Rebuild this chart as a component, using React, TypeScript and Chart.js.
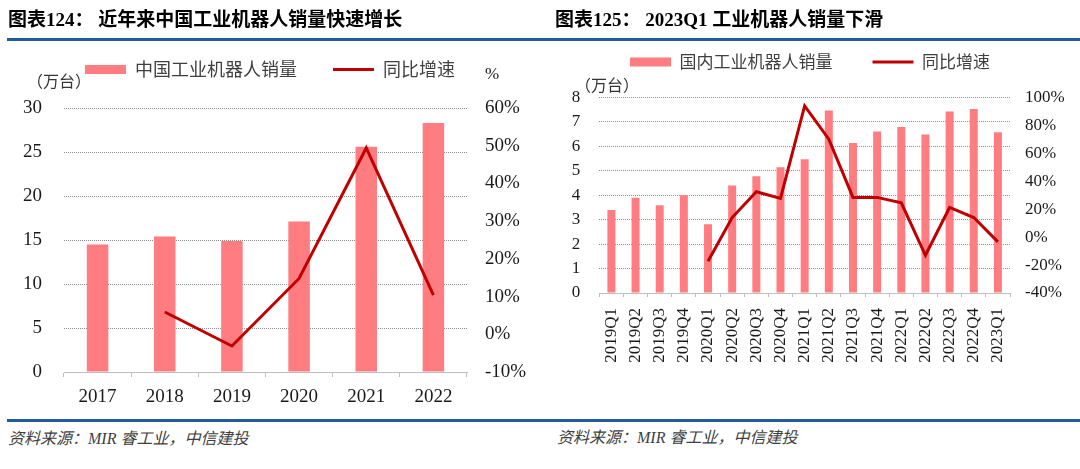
import React, { useEffect, useRef } from 'react';
import { Chart, registerables } from 'chart.js';

Chart.register(...registerables);

// ---------- data ----------
const yearLabels = ['2017', '2018', '2019', '2020', '2021', '2022'];
const yearSales = [14.5, 15.4, 14.9, 17.1, 25.6, 28.3];
const yearGrowth = [null, 5.9, -3.1, 14.8, 49.4, 10.4];

const quarterLabels = [
  '2019Q1', '2019Q2', '2019Q3', '2019Q4',
  '2020Q1', '2020Q2', '2020Q3', '2020Q4',
  '2021Q1', '2021Q2', '2021Q3', '2021Q4',
  '2022Q1', '2022Q2', '2022Q3', '2022Q4',
  '2023Q1',
];
const quarterSales = [3.39, 3.89, 3.59, 4.0, 2.81, 4.39, 4.77, 5.14, 5.47, 7.46, 6.13, 6.6, 6.79, 6.48, 7.42, 7.52, 6.57];
const quarterGrowth = [null, null, null, null, -17.3, 14.0, 32.4, 27.7, 93.8, 70.0, 28.4, 28.4, 24.5, -13.0, 21.2, 14.0, -3.4];

const leftTitle = '图表124： 近年来中国工业机器人销量快速增长';
const rightTitle = '图表125： 2023Q1 工业机器人销量下滑';
const leftBarName = '中国工业机器人销量';
const rightBarName = '国内工业机器人销量';
const lineName = '同比增速';
const unitLabel = '（万台）';
const sourceText = '资料来源：MIR 睿工业，中信建投';

// ---------- styles ----------
const BAR_COLOR = '#FF7C80';
const LINE_COLOR = '#C00000';
const GRID_COLOR = '#8C8C8C';
const AXIS_COLOR = '#BFBFBF';
const TEXT_COLOR = '#1a1a1a';
const BLUE = '#1F5C99';
const SERIF = "'Liberation Serif', 'Times New Roman', serif";
const CJK = "'Noto Sans CJK SC', 'Noto Sans', sans-serif";

type Cfg = {
  labels: string[];
  bars: number[];
  growth: (number | null)[];
  barName: string;
  yMax: number;
  yStep: number;
  y2Min: number;
  y2Max: number;
  y2Step: number;
  fontSize: number;
  leftWidth: number;
  rightWidth: number;
  leftPad: number;
  rightPad: number;
  xHeight: number;
  tickLen: number;
  xPad: number;
  rotate: boolean;
  legendPad: number;
  topPad: number;
  legendHeight: number;
  legendFont: number;
  barPct: number;
};

function buildConfig(c: Cfg): any {
  const legendHeightPlugin = {
    id: 'legendHeightFix',
    beforeUpdate(chart: any) {
      const lg = chart.legend;
      if (lg && !lg.__fixed) {
        const orig = lg.fit;
        lg.fit = function () {
          orig.call(this);
          this.height = c.legendHeight;
        };
        lg.__fixed = true;
      }
    },
  };
  return {
    type: 'bar',
    plugins: [legendHeightPlugin],
    data: {
      labels: c.labels,
      datasets: [
        {
          type: 'bar',
          label: c.barName,
          data: c.bars,
          backgroundColor: BAR_COLOR,
          borderWidth: 0,
          yAxisID: 'y',
          order: 1,
          categoryPercentage: 1,
          barPercentage: c.barPct,
        },
        {
          type: 'line',
          label: lineName,
          data: c.growth,
          borderColor: LINE_COLOR,
          backgroundColor: LINE_COLOR,
          borderWidth: 3,
          pointRadius: 0,
          tension: 0,
          yAxisID: 'y2',
          order: 0,
        },
      ],
    },
    options: {
      responsive: false,
      animation: false,
      devicePixelRatio: 1,
      layout: { padding: { top: c.topPad, left: 0, right: 0, bottom: 0 } },
      plugins: {
        tooltip: { enabled: false },
        legend: {
          position: 'top',
          labels: {
            usePointStyle: true,
            pointStyleWidth: 41,
            boxWidth: 41,
            boxHeight: 9,
            padding: c.legendPad,
            color: '#404040',
            font: { family: CJK, size: c.legendFont },
            generateLabels: (chart: any) => {
              const items = Chart.defaults.plugins.legend.labels.generateLabels(chart);
              items.forEach((it: any) => {
                const ds = chart.data.datasets[it.datasetIndex];
                if (ds.type === 'line') {
                  it.pointStyle = 'line';
                  it.strokeStyle = LINE_COLOR;
                  it.lineWidth = 3;
                } else {
                  it.pointStyle = 'rect';
                  it.fillStyle = BAR_COLOR;
                  it.lineWidth = 0;
                }
              });
              return items.sort((a: any, b: any) => a.datasetIndex - b.datasetIndex);
            },
          },
        },
      },
      scales: {
        x: {
          offset: true,
          afterFit: (s: any) => { s.height = c.xHeight; },
          grid: {
            offset: true,
            drawOnChartArea: false,
            drawTicks: true,
            tickLength: c.tickLen,
            color: AXIS_COLOR,
            tickColor: AXIS_COLOR,
          },
          border: { display: true, color: AXIS_COLOR, width: 1 },
          ticks: {
            autoSkip: false,
            maxRotation: c.rotate ? 90 : 0,
            minRotation: c.rotate ? 90 : 0,
            padding: c.xPad,
            color: TEXT_COLOR,
            font: { family: SERIF, size: c.fontSize },
          },
        },
        y: {
          position: 'left',
          min: 0,
          max: c.yMax,
          afterFit: (s: any) => { s.width = c.leftWidth; },
          grid: {
            drawTicks: false,
            lineWidth: 1,
            color: (ctx: any) => (ctx.tick && ctx.tick.value === 0 ? 'rgba(0,0,0,0)' : GRID_COLOR),
          },
          border: { display: false, dash: [1, 1] },
          ticks: {
            stepSize: c.yStep,
            padding: c.leftPad,
            color: TEXT_COLOR,
            font: { family: SERIF, size: c.fontSize },
          },
        },
        y2: {
          position: 'right',
          min: c.y2Min,
          max: c.y2Max,
          afterFit: (s: any) => { s.width = c.rightWidth; },
          grid: { display: false, drawTicks: false },
          border: { display: false },
          ticks: {
            stepSize: c.y2Step,
            padding: c.rightPad,
            color: TEXT_COLOR,
            font: { family: SERIF, size: c.fontSize },
            callback: (v: any) => `${v}%`,
          },
        },
      },
    },
  };
}

const leftCfg: Cfg = {
  labels: yearLabels,
  bars: yearSales,
  growth: yearGrowth,
  barName: leftBarName,
  yMax: 30,
  yStep: 5,
  y2Min: -10,
  y2Max: 60,
  y2Step: 10,
  fontSize: 19,
  leftWidth: 64,
  rightWidth: 73,
  leftPad: 22,
  rightPad: 18,
  xHeight: 48,
  tickLen: 5,
  xPad: 9,
  rotate: false,
  legendPad: 36,
  topPad: 24.5,
  legendHeight: 83.5,
  legendFont: 18,
  barPct: 0.32,
};

const rightCfg: Cfg = {
  labels: quarterLabels,
  bars: quarterSales,
  growth: quarterGrowth,
  barName: rightBarName,
  yMax: 8,
  yStep: 1,
  y2Min: -40,
  y2Max: 100,
  y2Step: 20,
  fontSize: 17,
  leftWidth: 59.3,
  rightWidth: 70,
  leftPad: 19,
  rightPad: 15,
  xHeight: 127,
  tickLen: 4,
  xPad: 11,
  rotate: true,
  legendPad: 40,
  topPad: 13.5,
  legendHeight: 83.8,
  legendFont: 17,
  barPct: 0.33,
};

function ChartCanvas({ cfg, left }: { cfg: Cfg; left: number }) {
  const ref = useRef<HTMLCanvasElement | null>(null);
  useEffect(() => {
    if (!ref.current) return;
    const chart = new Chart(ref.current, buildConfig(cfg));
    return () => chart.destroy();
  }, [cfg]);
  return (
    <canvas
      ref={ref}
      width={540}
      height={420}
      style={{ position: 'absolute', left, top: 0, width: 540, height: 420, display: 'block' }}
    />
  );
}

const abs = (extra: React.CSSProperties): React.CSSProperties => ({
  position: 'absolute',
  whiteSpace: 'nowrap',
  margin: 0,
  ...extra,
});

export default function App() {
  const titleStyle: React.CSSProperties = {
    fontFamily: "'Liberation Serif', 'Noto Sans CJK SC', serif",
    fontWeight: 700,
    fontSize: 19,
    lineHeight: '24px',
    color: '#000',
  };
  const sourceStyle: React.CSSProperties = {
    fontFamily: "'Liberation Serif', 'Noto Sans CJK SC', serif",
    fontStyle: 'italic',
    fontSize: 16,
    lineHeight: '20px',
    color: '#404040',
  };
  const unitStyle: React.CSSProperties = {
    fontFamily: CJK,
    fontSize: 16,
    lineHeight: '20px',
    color: '#333',
  };
  return (
    <div style={{ position: 'absolute', left: 0, top: 0, width: 1080, height: 469, background: '#fff', overflow: 'hidden' }}>
      <ChartCanvas cfg={leftCfg} left={0} />
      <ChartCanvas cfg={rightCfg} left={540} />
      <div style={abs({ ...titleStyle, left: 8, top: 8 })}>{leftTitle}</div>
      <div style={abs({ ...titleStyle, left: 555, top: 8 })}>{rightTitle}</div>
      <div style={abs({ left: 7, top: 38, width: 1073, height: 3, background: BLUE })} />
      <div style={abs({ left: 7, top: 419, width: 1073, height: 3, background: BLUE })} />
      <div style={abs({ ...unitStyle, left: 27, top: 70 })}>{unitLabel}</div>
      <div style={abs({ ...unitStyle, left: 575, top: 74 })}>{unitLabel}</div>
      <div style={abs({ fontFamily: SERIF, fontSize: 17, lineHeight: '20px', color: TEXT_COLOR, left: 485, top: 64 })}>%</div>
      <div style={abs({ ...sourceStyle, left: 8, top: 429 })}>{sourceText}</div>
      <div style={abs({ ...sourceStyle, left: 557, top: 428 })}>{sourceText}</div>
    </div>
  );
}
